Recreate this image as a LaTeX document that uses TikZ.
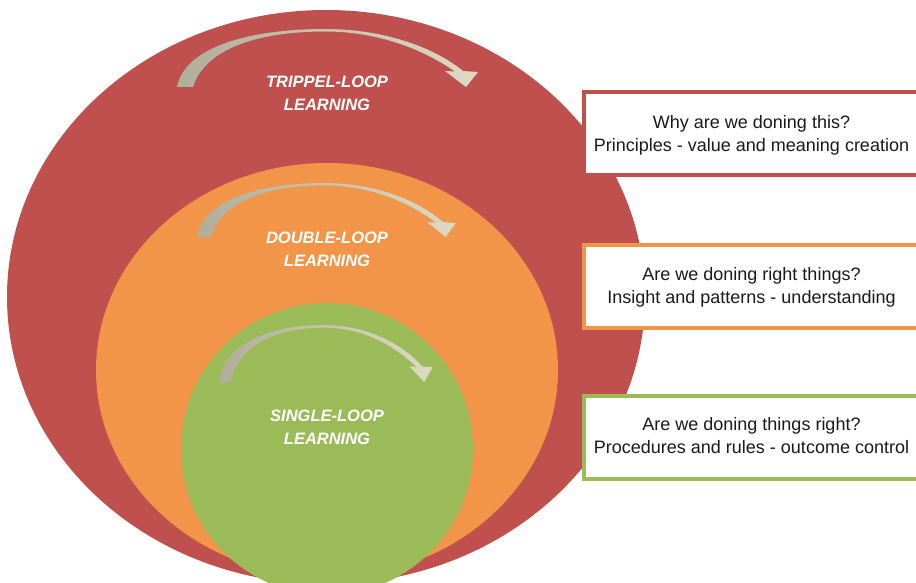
\documentclass[tikz,border=0pt]{standalone}
\usepackage{fontspec}
\setmainfont{Liberation Sans}
\definecolor{loopred}{HTML}{C0504D}
\definecolor{looporange}{HTML}{F29548}
\definecolor{loopgreen}{HTML}{9BBB59}
\definecolor{arrowdark}{HTML}{B0AE9B}
\definecolor{arrowlight}{HTML}{DDD9C4}
\definecolor{boxtext}{HTML}{1A1A1A}
\tikzset{
  looplabel/.style={text=white, font=\fontsize{16.5}{23}\selectfont\bfseries\itshape, align=center},
  qbox/.style={draw=#1, line width=4pt, fill=white, minimum width=340pt, minimum height=83pt,
    anchor=west, inner sep=0pt},
  qtext/.style={align=center, font=\fontsize{18}{23}\selectfont, text=boxtext, inner sep=0pt},
  loopshade/.style={left color=arrowdark, right color=arrowlight},
}
\newcommand{\looparrow}[4]{%
  \begin{scope}[shift={(#1,#2)}, xscale=#3, yscale=#4]
    \shade[loopshade] (0,0) .. controls (8,-42) and (78,-58) .. (148,-58)
      .. controls (208,-58) and (258,-39) .. (286,-16)
      -- (301,-15) -- (289,0) -- (268,-16) -- (278,-15.5)
      .. controls (253,-33) and (208,-55.5) .. (148,-55.5)
      .. controls (83,-55.5) and (28,-39) .. (16,0) -- cycle;
  \end{scope}}
\begin{document}
\begin{tikzpicture}[x=1pt,y=-1pt]
  \useasboundingbox (0,0) rectangle (916,583);
  \begin{scope}
    \clip (0,0) rectangle (916,583);
    \fill[loopred] (326,297) ellipse [x radius=319pt, y radius=287pt];
    \fill[looporange] (327,370) ellipse [x radius=231pt, y radius=207pt];
    \fill[loopgreen] (327,449) circle [radius=146pt];
    \looparrow{177}{87}{1}{1}
    \looparrow{197}{237}{0.86}{0.93}
    \looparrow{219}{382}{0.71}{0.98}
    \node[looplabel] (triple) at (327,93.5) {TRIPPEL-LOOP\\LEARNING};
    \node[looplabel] (double) at (327,249.5) {DOUBLE-LOOP\\LEARNING};
    \node[looplabel] (single) at (327,427.5) {SINGLE-LOOP\\LEARNING};
    \node[qbox=loopred] (whybox) at (582,133.5) {};
    \node[qbox=looporange] (rightbox) at (582,286) {};
    \node[qbox=loopgreen] (thingsbox) at (582,437.5) {};
    \node[qtext] (why) at ([xshift=-2.5pt,yshift=-2pt]whybox.center) {Why are we doning this?\\Principles - value and meaning creation};
    \node[qtext] (right) at ([xshift=-2.5pt,yshift=-1pt]rightbox.center) {Are we doning right things?\\Insight and patterns - understanding};
    \node[qtext] (things) at ([xshift=-2.5pt,yshift=2pt]thingsbox.center) {Are we doning things right?\\Procedures and rules - outcome control};
  \end{scope}
\end{tikzpicture}
\end{document}
